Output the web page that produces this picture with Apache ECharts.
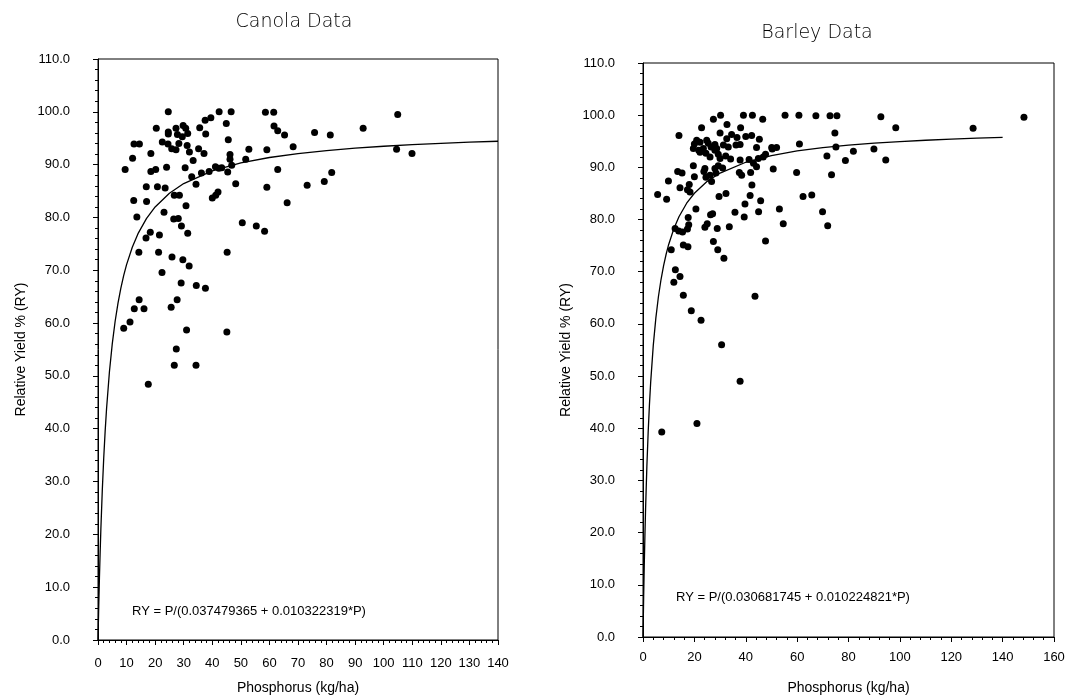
<!DOCTYPE html>
<html>
<head>
<meta charset="utf-8">
<script src="https://cdn.jsdelivr.net/npm/echarts@6/dist/echarts.min.js"></script>
<style>
  html, body { margin: 0; padding: 0; background: #fff; }
  #chart { width: 1073px; height: 700px; }
</style>
</head>
<body>
<div id="chart"></div>
<script>
// Canola: [phosphorus kg/ha, relative yield %]
const canolaPoints = [
  [24.6,100.0],[42.4,100.0],[46.6,100.0],[58.6,99.9],[61.5,99.9],[37.5,98.4],[39.5,98.9],[44.9,97.8],
  [61.6,97.3],[62.9,96.4],[20.4,96.9],[27.3,96.9],[29.8,97.4],[30.7,96.9],[35.6,97.0],[24.6,96.2],
  [24.6,95.8],[27.8,95.7],[29.5,95.3],[31.4,95.9],[37.7,95.8],[22.5,94.3],[24.5,93.9],[28.3,94.0],
  [31.2,93.6],[25.8,93.0],[27.3,92.8],[12.6,93.9],[14.5,93.9],[12.1,91.2],[18.5,92.1],[32.0,92.4],
  [35.2,93.0],[37.1,92.1],[45.6,94.7],[46.2,91.9],[46.2,91.0],[52.8,92.9],[59.1,92.8],[51.7,91.0],
  [9.5,89.1],[18.5,88.7],[20.2,89.1],[24.0,89.5],[30.5,89.4],[33.3,90.8],[36.2,88.4],[38.9,88.7],
  [41.1,89.6],[42.3,89.3],[43.3,89.4],[45.4,88.6],[46.8,89.9],[62.9,89.1],[32.8,87.7],[34.3,86.3],
  [48.2,86.4],[59.1,85.7],[16.9,85.8],[20.8,85.8],[23.5,85.6],[26.7,84.2],[28.5,84.2],[12.5,83.2],
  [17.0,83.0],[30.8,82.2],[40.0,83.7],[41.2,84.2],[42.0,84.8],[23.1,81.0],[13.6,80.1],[26.5,79.7],
  [28.1,79.8],[29.2,78.4],[50.5,79.0],[55.4,78.4],[58.3,77.4],[16.8,76.1],[18.3,77.2],[21.5,76.7],
  [31.4,77.0],[14.3,73.4],[21.2,73.4],[25.9,72.5],[29.7,72.0],[31.9,70.8],[45.2,73.4],[22.4,69.6],
  [29.1,67.6],[34.4,67.1],[37.6,66.6],[14.4,64.4],[12.7,62.7],[16.1,62.7],[27.7,64.4],[25.6,63.0],
  [11.2,60.2],[9.0,59.0],[31.0,58.7],[45.1,58.3],[27.4,55.1],[26.7,52.0],[34.3,52.0],[17.6,48.4],
  [65.3,95.6],[75.8,96.1],[81.3,95.6],[92.8,96.9],[104.9,99.5],[68.3,93.4],[104.5,92.9],[109.9,92.1],
  [66.2,82.8],[73.2,86.1],[79.2,86.8],[81.8,88.5]
];

// Barley: [phosphorus kg/ha, relative yield %]
const barleyPoints = [
  [27.4,99.2],[30.2,100.0],[39.1,100.0],[42.6,100.0],[46.6,99.2],[55.3,100.0],[60.7,100.0],
  [32.7,98.2],[22.8,97.6],[38.0,97.6],[14.0,96.1],[30.0,96.6],[34.5,96.3],[32.6,95.5],[36.6,95.7],
  [40.0,95.9],[42.3,96.1],[45.3,95.4],[20.9,95.2],[24.8,95.2],[20.0,94.5],[22.2,94.8],[23.5,93.6],
  [25.4,94.6],[26.5,93.9],[28.0,94.4],[28.7,93.6],[31.3,94.3],[33.2,93.9],[36.2,94.3],[37.8,94.4],
  [44.2,93.8],[50.1,93.8],[52.0,93.8],[19.6,93.6],[21.7,93.3],[22.2,92.9],[24.5,92.7],[26.1,92.0],
  [28.0,93.3],[29.3,92.5],[30.0,91.7],[32.2,92.2],[34.1,91.6],[37.8,91.4],[41.3,91.5],[43.0,90.8],
  [44.9,91.7],[46.8,92.0],[47.7,92.5],[50.3,93.5],[19.6,90.3],[24.1,89.8],[28.0,89.8],[29.3,90.3],
  [31.0,89.9],[37.5,89.0],[38.4,88.5],[41.9,89.0],[44.2,90.1],[50.7,89.7],[59.8,89.0],[60.9,94.5],
  [13.5,89.2],[15.2,88.9],[20.0,88.2],[23.7,89.2],[24.5,88.1],[26.1,88.5],[28.4,88.9],[26.7,87.3],
  [9.9,87.4],[14.4,86.1],[17.3,85.7],[18.0,86.7],[18.3,85.3],[29.6,84.4],[32.3,85.0],[42.4,86.6],
  [5.7,84.8],[9.2,83.9],[20.6,82.0],[35.8,81.4],[39.7,83.0],[39.4,80.5],[41.7,84.6],[45.0,81.5],
  [45.8,83.6],[53.1,82.0],[54.6,79.2],[12.5,78.3],[13.9,77.8],[17.6,80.4],[17.8,79.0],[17.3,78.2],
  [15.4,77.6],[26.3,80.9],[27.1,81.1],[24.1,78.5],[25.0,79.2],[28.9,78.3],[33.6,78.6],[47.7,75.9],
  [27.4,75.8],[29.1,74.2],[31.5,72.6],[11.0,74.2],[15.7,75.1],[17.5,74.8],[12.6,70.4],[14.4,69.1],
  [12.0,68.0],[15.7,65.5],[18.8,62.5],[22.6,60.7],[43.6,65.3],[30.6,56.0],[37.8,49.0],[7.3,39.3],
  [21.0,40.9],[67.3,99.9],[72.8,99.9],[75.5,99.9],[92.6,99.7],[98.4,97.6],[128.5,97.5],[74.7,96.6],
  [75.1,93.9],[71.6,92.2],[78.8,91.3],[81.9,93.1],[89.9,93.5],[94.5,91.4],[73.4,88.6],[62.3,84.4],
  [65.7,84.7],[69.9,81.5],[71.9,78.8],[148.3,99.6]
];

// fitted curves as drawn (RY = P/(a + b*P))
const curveP = [0, 0.25, 0.5, 0.75, 1, 1.5, 2, 2.5, 3, 4, 5, 6, 7, 8, 9, 10, 12, 14, 17, 20, 25, 30, 40, 50, 60, 70, 80, 90, 100, 110, 120, 130, 140];
const canolaCurveRY = [0, 6.24, 11.73, 16.59, 20.92, 28.32, 34.41, 39.50, 43.83, 50.78, 56.12, 60.35, 63.79, 66.63, 69.03, 71.07, 74.37, 76.93, 79.83, 81.99, 84.59, 86.42, 88.82, 90.32, 91.35, 92.10, 92.67, 93.12, 93.48, 93.78, 94.03, 94.25, 94.43];
const barleyCurveRY = [0, 7.52, 13.97, 19.56, 24.45, 32.60, 39.11, 44.45, 48.90, 55.88, 61.12, 65.20, 68.46, 71.12, 73.35, 75.23, 78.24, 80.54, 83.13, 85.04, 87.32, 88.91, 90.98, 92.26, 93.14, 93.78, 94.26, 94.65, 94.95, 95.20, 95.42, 95.59, 95.75];

const titles = ["Canola Data", "Barley Data"];
const equations = [
  "RY = P/(0.037479365 + 0.010322319*P)",
  "RY = P/(0.030681745 + 0.010224821*P)"
];
const yName = "Relative Yield % (RY)";
const xName = "Phosphorus (kg/ha)";

const font = "Liberation Sans";

const chart = echarts.init(document.getElementById("chart"));

const makeX = (idx, max, interval, labelMargin, nameGap) => ({
  type: "value",
  gridIndex: idx,
  min: 0,
  max: max,
  interval: interval,
  name: xName,
  nameLocation: "middle",
  nameGap: nameGap,
  nameTextStyle: { color: "#000", fontFamily: font, fontSize: 14 },
  axisLine: { show: true, onZero: false, lineStyle: { color: "#000", width: 1 } },
  axisTick: { show: true, inside: false, length: 5, lineStyle: { color: "#000" } },
  minorTick: { show: true, splitNumber: 5, length: 3, lineStyle: { color: "#000" } },
  splitLine: { show: false },
  axisLabel: { color: "#000", fontFamily: font, fontSize: 13, margin: labelMargin }
});

const makeY = (idx) => ({
  type: "value",
  gridIndex: idx,
  min: 0,
  max: 110,
  interval: 10,
  name: yName,
  nameLocation: "middle",
  nameGap: 70,
  nameTextStyle: { color: "#000", fontFamily: font, fontSize: 14 },
  axisLine: { show: true, lineStyle: { color: "#000", width: 1 } },
  axisTick: { show: true, inside: false, length: 5, lineStyle: { color: "#000" } },
  minorTick: { show: true, splitNumber: 5, length: 3, lineStyle: { color: "#000" } },
  splitLine: { show: false },
  axisLabel: {
    color: "#000", fontFamily: font, fontSize: 13, margin: 28,
    formatter: (v) => v.toFixed(1)
  }
});

const dotStyle = { color: "#000", opacity: 1 };
const curveStyle = { color: "#000", width: 1.3 };

const option = {
  backgroundColor: "#fff",
  animation: false,
  grid: [
    { left: 98, top: 59, width: 400, height: 583, show: true, borderColor: "#000", borderWidth: 1 },
    { left: 643, top: 63, width: 411, height: 575, show: true, borderColor: "#000", borderWidth: 1 }
  ],
  xAxis: [makeX(0, 140, 10, 17, 41), makeX(1, 160, 20, 14, 44)],
  yAxis: [makeY(0), makeY(1)],
  graphic: [
    { type: "text", x: 294, y: 22, style: { text: titles[0], fill: "#000", fontFamily: "DejaVu Sans", fontWeight: 200, fontSize: 19, align: "center", verticalAlign: "middle" } },
    { type: "text", x: 817, y: 33, style: { text: titles[1], fill: "#000", fontFamily: "DejaVu Sans", fontWeight: 200, fontSize: 19, align: "center", verticalAlign: "middle" } },
    { type: "text", x: 132, y: 611, style: { text: equations[0], fill: "#000", fontFamily: font, fontSize: 13, align: "left", verticalAlign: "middle" } },
    { type: "text", x: 676, y: 597, style: { text: equations[1], fill: "#000", fontFamily: font, fontSize: 13, align: "left", verticalAlign: "middle" } }
  ],
  series: [
    {
      type: "scatter", xAxisIndex: 0, yAxisIndex: 0,
      data: canolaPoints, symbolSize: 7, itemStyle: dotStyle
    },
    {
      type: "line", xAxisIndex: 0, yAxisIndex: 0,
      data: curveP.map((p, i) => [p, canolaCurveRY[i]]),
      showSymbol: false, smooth: false, lineStyle: curveStyle
    },
    {
      type: "scatter", xAxisIndex: 1, yAxisIndex: 1,
      data: barleyPoints, symbolSize: 7, itemStyle: dotStyle
    },
    {
      type: "line", xAxisIndex: 1, yAxisIndex: 1,
      data: curveP.map((p, i) => [p, barleyCurveRY[i]]),
      showSymbol: false, smooth: false, lineStyle: curveStyle
    }
  ]
};

chart.setOption(option);
window.addEventListener("resize", chart.resize);
</script>
</body>
</html>
